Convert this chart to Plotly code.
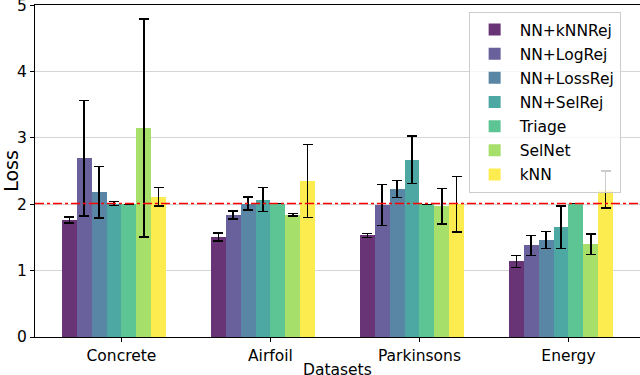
import plotly.graph_objects as go

datasets = ["Concrete", "Airfoil", "Parkinsons", "Energy"]
methods = ["NN+kNNRej", "NN+LogRej", "NN+LossRej", "NN+SelRej", "Triage", "SelNet", "kNN"]
colors = ["#693476", "#69619c", "#5a86a5", "#4da7a3", "#5dc594", "#a6df69", "#fdec50"]

means = {
    "NN+kNNRej":  [1.76, 1.51, 1.53, 1.14],
    "NN+LogRej":  [2.69, 1.84, 1.99, 1.38],
    "NN+LossRej": [2.18, 2.01, 2.23, 1.46],
    "NN+SelRej":  [2.01, 2.07, 2.67, 1.65],
    "Triage":     [2.00, 2.01, 2.00, 2.01],
    "SelNet":     [3.15, 1.84, 1.97, 1.40],
    "kNN":        [2.11, 2.35, 2.00, 2.22],
}
errors = {
    "NN+kNNRej":  [0.045, 0.06, 0.03, 0.09],
    "NN+LogRej":  [0.87, 0.06, 0.31, 0.15],
    "NN+LossRej": [0.39, 0.10, 0.125, 0.13],
    "NN+SelRej":  [0.03, 0.18, 0.36, 0.32],
    "Triage":     [0.0, 0.0, 0.0, 0.0],
    "SelNet":     [1.64, 0.02, 0.27, 0.155],
    "kNN":        [0.14, 0.55, 0.42, 0.28],
}
baseline = 2.01

bar_w = 0.1
fig = go.Figure()
for i, m in enumerate(methods):
    xs = [j + (i - 3.5) * bar_w for j in range(len(datasets))]
    fig.add_trace(go.Bar(
        x=xs, y=means[m], width=bar_w, name=m, legendgroup=m,
        marker=dict(color=colors[i], line=dict(width=0)),
        error_y=dict(type="data", array=errors[m], visible=True,
                     color="black", thickness=1.5, width=5),
    ))

fig.add_shape(type="line", xref="paper", x0=0, x1=1, yref="y", y0=baseline, y1=baseline,
              line=dict(color="red", width=1.5, dash="dashdot"))

fig.add_annotation(text="Datasets", xref="paper", yref="paper", x=0.5, y=0,
                   xanchor="center", yanchor="middle", yshift=-33, showarrow=False,
                   font=dict(size=15.5, color="black"))

fig.update_layout(
    width=640, height=375,
    margin=dict(l=35, r=0, t=5, b=38),
    paper_bgcolor="white", plot_bgcolor="white",
    font=dict(family="DejaVu Sans", size=15.5, color="black"),
    bargap=0, showlegend=True,
    legend=dict(x=0.968, xanchor="right", y=0.979, yanchor="top",
                bgcolor="rgba(255,255,255,0.8)", bordercolor="#cccccc", borderwidth=1,
                font=dict(size=15.5), tracegroupgap=1, itemwidth=40),
    xaxis=dict(range=[-0.58, 3.48], tickvals=list(range(len(datasets))), ticktext=datasets,
               showgrid=False, showline=True, linecolor="black", linewidth=1, mirror=True,
               ticks="outside", ticklen=4, tickcolor="black", zeroline=False, automargin=False),
    yaxis=dict(range=[0, 5.002], tickvals=[0, 1, 2, 3, 4, 5], showgrid=True,
               gridcolor="#d5d5d5", gridwidth=1, ticklabeloverflow="allow",
               showline=True, linecolor="black", linewidth=1, mirror=True,
               ticks="outside", ticklen=4, tickcolor="black", zeroline=False, automargin=False,
               title=dict(text="Loss", standoff=6)),
)

fig.write_html("out.html", config={"displayModeBar": False},
               post_script="document.body.style.margin='0';")
